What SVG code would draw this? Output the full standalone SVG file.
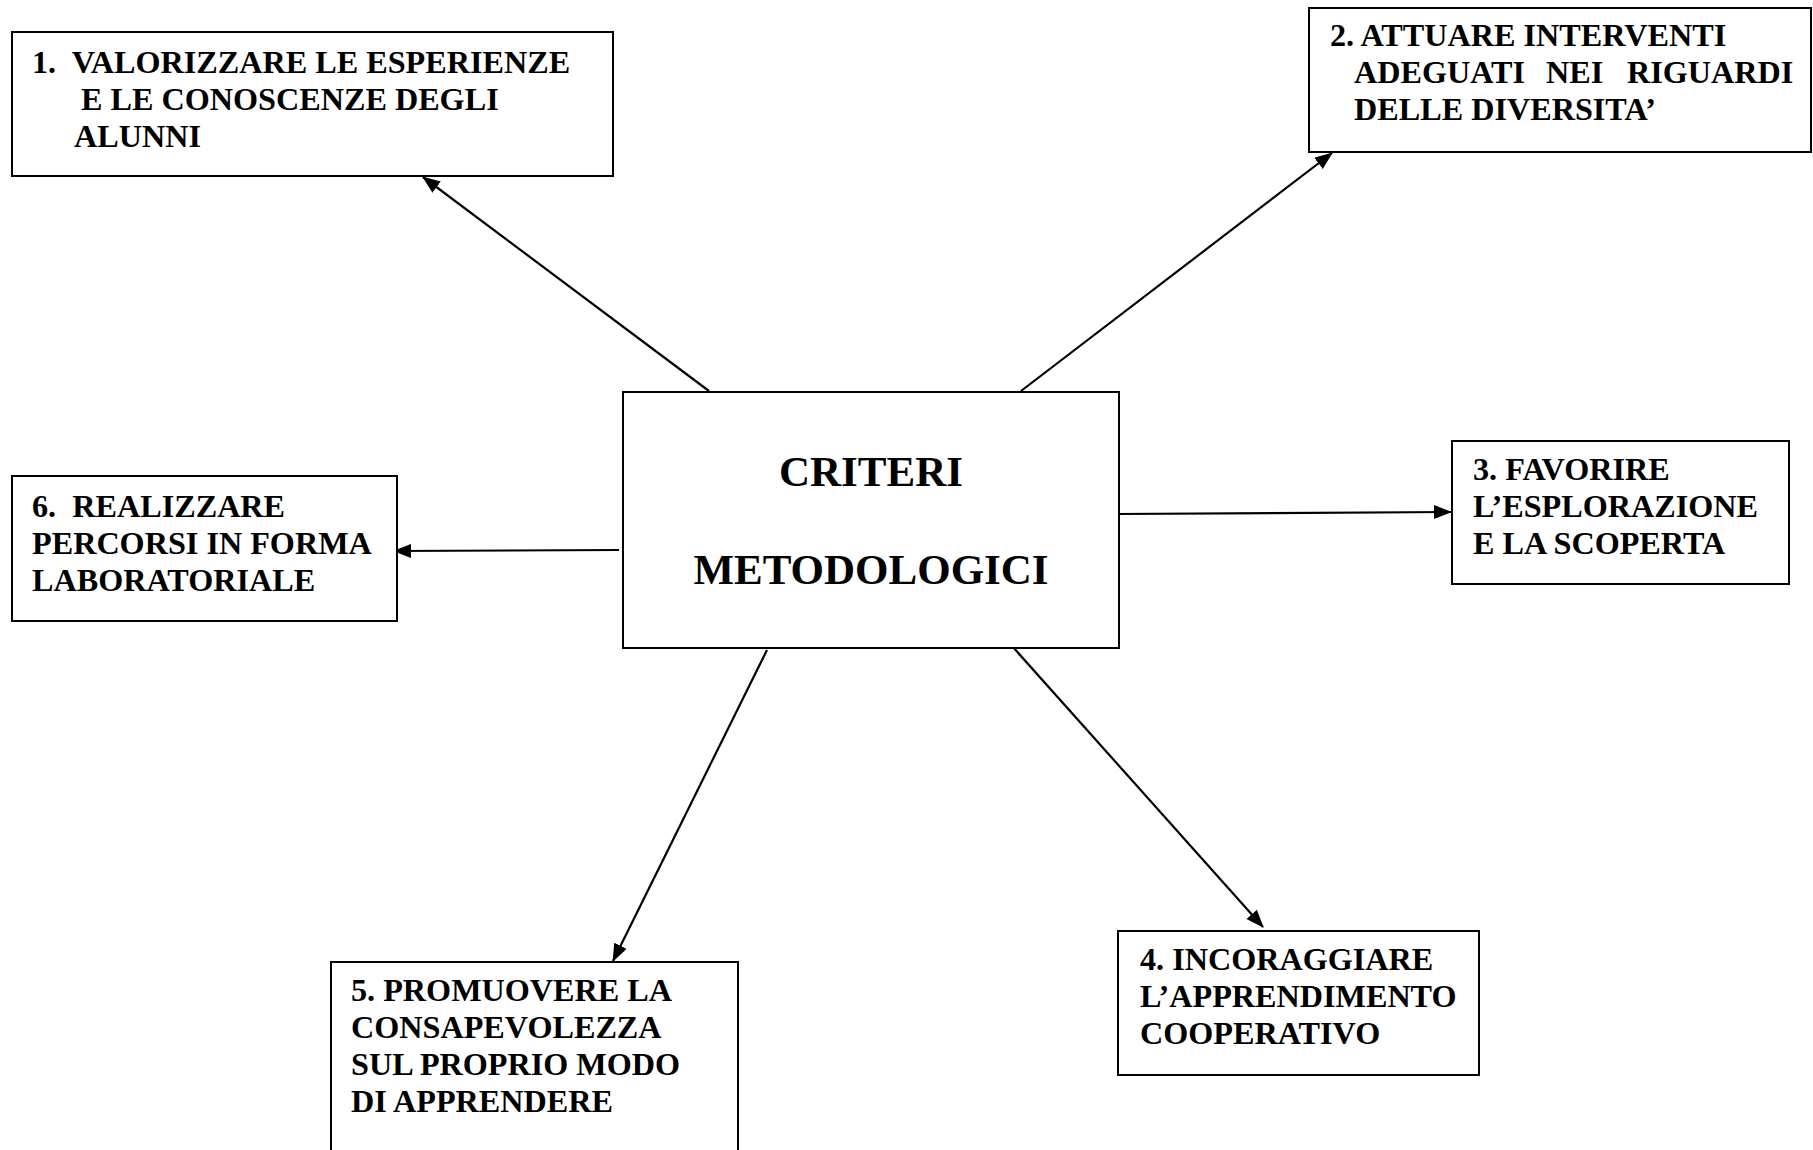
<svg xmlns="http://www.w3.org/2000/svg" width="1813" height="1150" viewBox="0 0 1813 1150">
<style>
.box{fill:#fff;stroke:#000;stroke-width:2}
.t{font-family:"Liberation Serif","Times New Roman",serif;font-weight:bold;font-size:32.2px;fill:#000}
.c{font-family:"Liberation Serif","Times New Roman",serif;font-weight:bold;font-size:43px;fill:#000;text-anchor:middle}
.e{stroke:#000;stroke-width:2.2;fill:none;marker-end:url(#ah)}
</style>
<defs>
<marker id="ah" markerUnits="userSpaceOnUse" markerWidth="20" markerHeight="16" refX="17" refY="7" orient="auto">
<path d="M0,0 L18,7 L0,14 z" fill="#000"/>
</marker>
</defs>
<rect width="1813" height="1150" fill="#fff"/>
<g id="connectors">
<line class="e" x1="709" y1="391" x2="423" y2="177"/>
<line class="e" x1="1021" y1="391" x2="1332" y2="153"/>
<line class="e" x1="1116" y1="514" x2="1451" y2="512"/>
<line class="e" x1="1012" y1="646" x2="1263" y2="927"/>
<line class="e" x1="767" y1="650" x2="613" y2="961"/>
<line class="e" x1="619" y1="550" x2="394" y2="551"/>
</g>
<g id="center">
<rect class="box" x="623" y="392" width="496" height="256"/>
<text class="c" x="871" y="486">CRITERI</text>
<text class="c" x="871" y="584">METODOLOGICI</text>
</g>
<g id="node1">
<rect class="box" x="12" y="32" width="601" height="144"/>
<text class="t" x="32" y="73" xml:space="preserve">1.  VALORIZZARE LE ESPERIENZE</text>
<text class="t" x="81" y="110">E LE CONOSCENZE DEGLI</text>
<text class="t" x="74" y="147">ALUNNI</text>
</g>
<g id="node2">
<rect class="box" x="1309" y="8" width="502" height="144"/>
<text class="t" x="1330" y="46">2. ATTUARE INTERVENTI</text>
<text class="t" y="83"><tspan x="1354">ADEGUATI</tspan><tspan x="1546">NEI</tspan><tspan x="1627">RIGUARDI</tspan></text>
<text class="t" x="1354" y="120">DELLE DIVERSITA’</text>
</g>
<g id="node3">
<rect class="box" x="1452" y="441" width="337" height="143"/>
<text class="t" x="1473" y="480">3. FAVORIRE</text>
<text class="t" x="1473" y="517">L’ESPLORAZIONE</text>
<text class="t" x="1473" y="554">E LA SCOPERTA</text>
</g>
<g id="node4">
<rect class="box" x="1118" y="931" width="361" height="144"/>
<text class="t" x="1140" y="970">4. INCORAGGIARE</text>
<text class="t" x="1140" y="1007">L’APPRENDIMENTO</text>
<text class="t" x="1140" y="1044">COOPERATIVO</text>
</g>
<g id="node5">
<rect class="box" x="331" y="962" width="407" height="200"/>
<text class="t" x="351" y="1001">5. PROMUOVERE LA</text>
<text class="t" x="351" y="1038">CONSAPEVOLEZZA</text>
<text class="t" x="351" y="1075">SUL PROPRIO MODO</text>
<text class="t" x="351" y="1112">DI APPRENDERE</text>
</g>
<g id="node6">
<rect class="box" x="12" y="476" width="385" height="145"/>
<text class="t" x="32" y="517" xml:space="preserve">6.  REALIZZARE</text>
<text class="t" x="32" y="554">PERCORSI IN FORMA</text>
<text class="t" x="32" y="591">LABORATORIALE</text>
</g>
</svg>
